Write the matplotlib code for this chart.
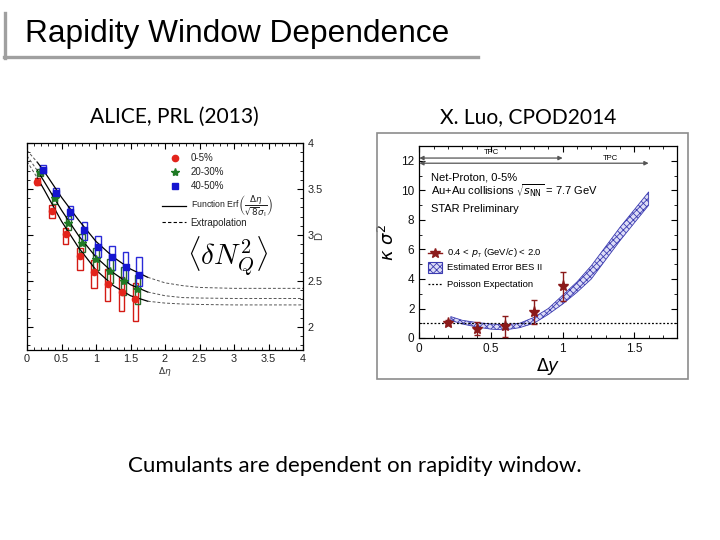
import matplotlib.pyplot as plt
from matplotlib.lines import Line2D
from matplotlib.patches import Rectangle
from matplotlib.ticker import MultipleLocator

plt.rcParams['font.family'] = ['Liberation Sans', 'DejaVu Sans']
plt.rcParams['hatch.linewidth'] = 0.6

# ALICE panel: <dN_Q^2> vs delta eta, three centralities
eta_red = [0.15, 0.36, 0.56, 0.77, 0.97, 1.17, 1.37, 1.57]
val_red = [3.58, 3.26, 3.01, 2.77, 2.60, 2.47, 2.38, 2.30]
box_red_lo = [3.54, 3.19, 2.90, 2.62, 2.42, 2.28, 2.17, 2.06]
box_red_hi = [3.62, 3.33, 3.08, 2.86, 2.73, 2.63, 2.54, 2.48]

eta_green = [0.19, 0.40, 0.60, 0.80, 1.00, 1.20, 1.40, 1.60]
val_green = [3.68, 3.40, 3.13, 2.91, 2.74, 2.61, 2.50, 2.41]
box_green_lo = [3.64, 3.34, 3.05, 2.81, 2.62, 2.48, 2.35, 2.25]
box_green_hi = [3.72, 3.46, 3.21, 3.01, 2.86, 2.74, 2.65, 2.57]

eta_blue = [0.23, 0.42, 0.63, 0.83, 1.03, 1.23, 1.43, 1.62]
val_blue = [3.71, 3.46, 3.25, 3.05, 2.87, 2.76, 2.65, 2.57]
box_blue_lo = [3.67, 3.42, 3.17, 2.95, 2.76, 2.62, 2.49, 2.45]
box_blue_hi = [3.76, 3.51, 3.32, 3.14, 2.99, 2.88, 2.81, 2.76]

# fit curves (solid 0.15-1.75, dashed outside)
curve_eta = [0, 0.15, 0.25, 0.5, 0.75, 1.0, 1.25, 1.5, 1.75, 2.0, 2.25, 2.5, 3.0, 4.0]
curve_red = [3.80, 3.62, 3.49, 3.15, 2.86, 2.62, 2.45, 2.34, 2.28, 2.26, 2.25, 2.245, 2.24, 2.24]
curve_green = [3.86, 3.70, 3.58, 3.27, 2.99, 2.76, 2.59, 2.46, 2.38, 2.34, 2.32, 2.315, 2.31, 2.31]
curve_blue = [3.92, 3.79, 3.69, 3.41, 3.16, 2.93, 2.76, 2.63, 2.54, 2.48, 2.45, 2.43, 2.42, 2.42]

eta_ticks = [0, 0.5, 1, 1.5, 2, 2.5, 3, 3.5, 4]
eta_labels = ['0', '0.5', '1', '1.5', '2', '2.5', '3', '3.5', '4']
dn_ticks = [2, 2.5, 3, 3.5, 4]
dn_labels = ['2', '2.5', '3', '3.5', '4']

# STAR panel: net-proton kappa*sigma^2 vs delta y
dy = [0.2, 0.4, 0.6, 0.8, 1.0]
ks2 = [1.05, 0.62, 0.78, 1.75, 3.5]
ks2_err = [0.2, 0.45, 0.7, 0.8, 1.0]
band_dy = [0.22, 0.3, 0.4, 0.5, 0.6, 0.7, 0.8, 0.9, 1.0, 1.1, 1.2, 1.3, 1.4, 1.5, 1.6]
band_lo = [1.2, 0.95, 0.75, 0.6, 0.55, 0.7, 1.0, 1.6, 2.3, 3.1, 4.0, 5.3, 6.6, 7.8, 9.0]
band_hi = [1.45, 1.2, 1.05, 0.95, 0.9, 1.0, 1.4, 2.0, 2.9, 3.8, 4.9, 6.2, 7.5, 8.7, 9.9]

dy_ticks = [0, 0.5, 1, 1.5]
dy_labels = ['0', '0.5', '1', '1.5']
ks_ticks = [0, 2, 4, 6, 8, 10, 12]
ks_labels = ['0', '2', '4', '6', '8', '10', '12']


def fx(px):
    return px / 720


def fy(py):
    return 1 - py / 540


fig = plt.figure(figsize=(7.2, 5.4), dpi=100)

# slide title with grey bracket
fig.add_artist(Line2D([fx(5), fx(5)], [fy(13), fy(58)], color='#a0a0a0', lw=2.4))
fig.add_artist(Line2D([fx(4), fx(478)], [fy(57), fy(57)], color='#a0a0a0', lw=2.4))
fig.text(fx(25), fy(42), 'Rapidity Window Dependence', fontsize=22.8, va='baseline')

fig.text(fx(174), fy(117), 'ALICE, PRL (2013)', family='Lato', fontsize=15.1,
         ha='center', va='center')
fig.text(fx(528), fy(117), 'X. Luo, CPOD2014', family='Lato', fontsize=15.1,
         ha='center', va='center')
fig.text(fx(355), fy(466), 'Cumulants are dependent on rapidity window.', family='Lato',
         fontsize=16, ha='center', va='center')

# ---- left panel ----
ax1 = fig.add_axes([fx(27), fy(350), fx(303) - fx(27), fy(143) - fy(350)])
series = [
    (eta_red, val_red, box_red_lo, box_red_hi, '#e3241b', '#d41a14', 'o', 4.5, '0-5%'),
    (eta_green, val_green, box_green_lo, box_green_hi, '#1f7a24', '#2b6a2b', '*', 6, '20-30%'),
    (eta_blue, val_blue, box_blue_lo, box_blue_hi, '#1515d0', '#2a2ad8', 's', 5, '40-50%'),
]
for x, y, lo, hi, c, ec, m, ms, lab in series:
    ax1.bar(x, [h - l for l, h in zip(lo, hi)], bottom=lo, width=0.08, fill=False,
            edgecolor=ec, lw=1.0)
    ax1.plot(x, y, m, color=c, ms=ms, zorder=4)

for cv in (curve_red, curve_green, curve_blue):
    ax1.plot(curve_eta[1:9], cv[1:9], color='black', lw=0.9)
    ax1.plot(curve_eta[:2], cv[:2], color='#555555', lw=0.7, ls=(0, (3, 2)))
    ax1.plot(curve_eta[8:], cv[8:], color='#555555', lw=0.7, ls=(0, (3, 2)))

ax1.set_xlim(0, 4)
ax1.set_ylim(1.75, 4.0)
ax1.set_xticks(eta_ticks)
ax1.set_xticklabels(eta_labels)
ax1.set_yticks(dn_ticks)
ax1.set_yticklabels(dn_labels)
ax1.xaxis.set_minor_locator(MultipleLocator(0.1))
ax1.yaxis.set_minor_locator(MultipleLocator(0.1))
ax1.tick_params(which='both', direction='in', top=True, right=True, left=True,
                labelleft=False, labelright=True, labelsize=7.8, labelcolor='#222222')
ax1.tick_params(which='major', length=4, width=0.8)
ax1.tick_params(which='minor', length=2, width=0.6)
ax1.tick_params(axis='x', pad=3)
for s in ax1.spines.values():
    s.set_linewidth(0.9)

# in-plot legend
leg_x = 2.15
for (x, y, lo, hi, c, ec, m, ms, lab), ly in zip(series, [3.84, 3.68, 3.53]):
    ax1.plot([leg_x], [ly], m, color=c, ms=ms)
    ax1.text(2.37, ly, lab, fontsize=7, va='center', color='#222222')
ax1.plot([1.95, 2.31], [3.32, 3.32], color='black', lw=0.9)
ax1.text(2.37, 3.31, r'Function Erf$\left(\dfrac{\Delta\eta}{\sqrt{8}\sigma_{\mathrm{l}}}\right)$',
         fontsize=6.3, va='center', color='#222222')
ax1.plot([1.95, 2.31], [3.14, 3.14], color='black', lw=0.8, ls=(0, (3, 2)))
ax1.text(2.37, 3.13, 'Extrapolation', fontsize=7, va='center', color='#222222')
ax1.text(2.91, 2.77, r'$\langle \delta N_Q^2 \rangle$', fontsize=21, ha='center',
         va='center', math_fontfamily='cm')
fig.text(fx(165), fy(372), r'$\Delta\eta$', fontsize=6.5, ha='center', va='center',
         color='#333333')
fig.text(fx(319), fy(236), 'D', fontsize=8, rotation=90, ha='center', va='center',
         color='#444444')

# ---- right panel ----
fig.add_artist(Rectangle((fx(377), fy(379)), fx(688) - fx(377), fy(133) - fy(379),
                         fill=False, edgecolor='#8c8c8c', lw=1.2, transform=fig.transFigure))
ax2 = fig.add_axes([fx(419.3), fy(338), fx(677.3) - fx(419.3), fy(146.25) - fy(338)])
ax2.fill_between(band_dy, band_lo, band_hi, facecolor='#dcdcf6', edgecolor='#3b3bb0',
                 hatch='xxxxx', lw=0.6)
ax2.axhline(1, color='black', lw=0.9, ls=(0, (1.5, 1.5)))
ax2.errorbar(dy, ks2, yerr=ks2_err, fmt='*', color='#8b1a1a', ms=8, capsize=2.5,
             elinewidth=1.0, capthick=1.0, zorder=5)

ax2.set_xlim(0, 1.8)
ax2.set_ylim(0, 13)
ax2.set_xticks(dy_ticks)
ax2.set_xticklabels(dy_labels)
ax2.set_yticks(ks_ticks)
ax2.set_yticklabels(ks_labels)
ax2.xaxis.set_minor_locator(MultipleLocator(0.1))
ax2.yaxis.set_minor_locator(MultipleLocator(1))
ax2.tick_params(which='both', direction='in', top=True, right=True, labelsize=8.5,
                labelcolor='#111111')
ax2.tick_params(which='major', length=4, width=0.8)
ax2.tick_params(which='minor', length=2, width=0.6)
ax2.set_xlabel(r'$\Delta y$', fontsize=12.5, labelpad=1)
ax2.set_ylabel(r'$\kappa\ \sigma^2$', fontsize=13, labelpad=2)
for s in ax2.spines.values():
    s.set_linewidth(0.9)

# TPC acceptance arrows
ax2.annotate('', xy=(1.0, 12.2), xytext=(0, 12.2),
             arrowprops=dict(arrowstyle='<|-|>', color='#555555', lw=0.9,
                             mutation_scale=6, shrinkA=0, shrinkB=0))
ax2.annotate('', xy=(1.6, 11.85), xytext=(0, 11.85),
             arrowprops=dict(arrowstyle='<|-|>', color='#555555', lw=0.9,
                             mutation_scale=6, shrinkA=0, shrinkB=0))
ax2.text(0.5, 12.35, 'TPC', fontsize=5.5, ha='center', va='bottom')
ax2.text(1.33, 11.95, 'TPC', fontsize=5.5, ha='center', va='bottom')

ax2.text(0.08, 10.9, 'Net-Proton, 0-5%', fontsize=8, va='center')
ax2.text(0.08, 9.95, r'Au+Au collisions $\sqrt{s_{\mathrm{NN}}}$ = 7.7 GeV', fontsize=8,
         va='center', math_fontfamily='dejavusans')
ax2.text(0.08, 8.75, 'STAR Preliminary', fontsize=8, va='center')

# legend drawn by hand to keep the original placement
ax2.plot([0.06, 0.16], [5.75, 5.75], color='#8b1a1a', lw=1.0)
ax2.plot([0.11], [5.75], '*', color='#8b1a1a', ms=7)
ax2.text(0.19, 5.75, r'0.4 < $p_{_T}$ (GeV/$c$) < 2.0', fontsize=6.8, va='center',
         math_fontfamily='dejavusans')
ax2.add_patch(Rectangle((0.06, 4.4), 0.1, 0.75, facecolor='#dcdcf6', edgecolor='#3b3bb0',
                        hatch='xxxxx', lw=0.8))
ax2.text(0.19, 4.75, 'Estimated Error BES II', fontsize=6.8, va='center')
ax2.plot([0.06, 0.16], [3.66, 3.66], color='black', lw=0.9, ls=(0, (1.5, 1.5)))
ax2.text(0.19, 3.66, 'Poisson Expectation', fontsize=6.8, va='center')

fig.savefig('out.png', dpi=100)
